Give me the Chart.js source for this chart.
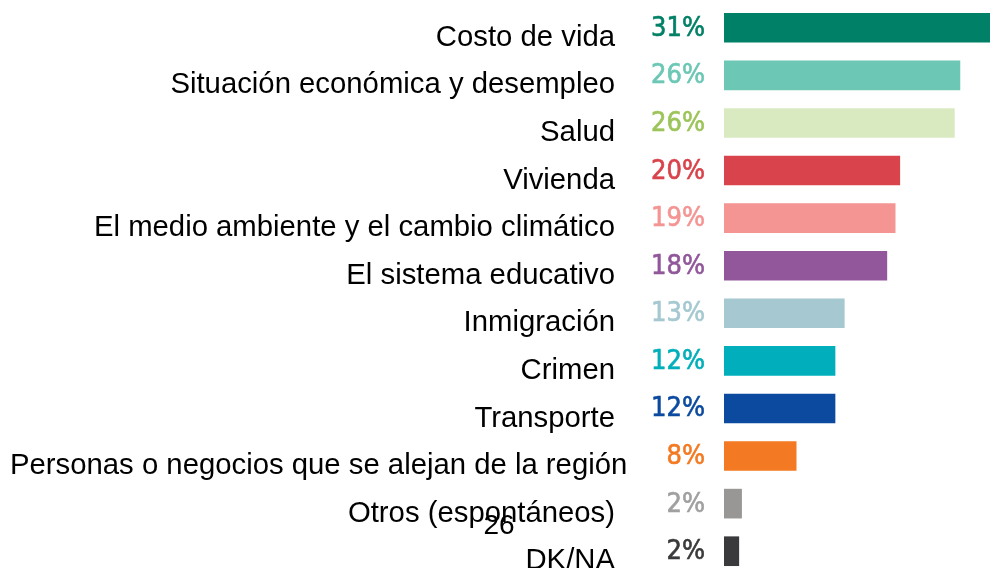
<!DOCTYPE html>
<html>
<head>
<meta charset="utf-8">
<script src="https://cdn.jsdelivr.net/npm/chart.js@4.4.1/dist/chart.umd.min.js"></script>
<style>
  html, body { margin: 0; padding: 0; background: #fff; overflow: hidden; }
  #wrap { width: 990px; height: 575px; position: relative; }
</style>
</head>
<body>
<div id="wrap"><canvas id="issues"></canvas></div>
<script>
const categories = [
  "Costo de vida",
  "Situación económica y desempleo",
  "Salud",
  "Vivienda",
  "El medio ambiente y el cambio climático",
  "El sistema educativo",
  "Inmigración",
  "Crimen",
  "Transporte",
  "Personas o negocios que se alejan de la región",
  "Otros (espontáneos)",
  "DK/NA",
];
// bar lengths
const values = [31, 25.5, 24.9, 19.0, 18.5, 17.6, 13.0, 12.0, 12.0, 7.8, 1.9, 1.6];
// printed labels
const valueLabels = ["31%", "26%", "26%", "20%", "19%", "18%", "13%", "12%", "12%", "8%", "2%", "2%"];

const barColors = ["#008066", "#6cc7b5", "#d9eac0", "#d9434b", "#f49593", "#91579a",
                   "#a5c8d1", "#00afbb", "#0b4a9f", "#f37a22", "#999696", "#3a3a3c"];
const labelColors = ["#008066", "#6cc7b5", "#9cc45a", "#d9434b", "#f49593", "#91579a",
                     "#a5c8d1", "#00afbb", "#0b4a9f", "#f37a22", "#a0a0a0", "#3a3a3c"];

// category names + percentages, placed from the y scale
const sideLabels = {
  id: "sideLabels",
  afterDatasetsDraw(chart) {
    const { ctx, chartArea } = chart;
    const yScale = chart.scales.y;
    ctx.save();
    ctx.textBaseline = "middle";
    categories.forEach((name, i) => {
      const y = yScale.getPixelForTick(i);
      ctx.font = "29.3px 'Liberation Sans', Arial, sans-serif";
      ctx.fillStyle = "#000";
      ctx.textAlign = "right";
      const w = ctx.measureText(name).width;
      ctx.fillText(name, Math.max(615, 10 + w), y + 10);

      ctx.font = "27px 'DejaVu Sans Condensed', 'DejaVu Sans'";
      ctx.fillStyle = labelColors[i];
      ctx.lineWidth = 0.6;
      ctx.strokeStyle = labelColors[i];
      ctx.fillText(valueLabels[i], chartArea.left - 19, y + 1);
      ctx.strokeText(valueLabels[i], chartArea.left - 19, y + 1);
    });
    // stray page number from the source slide
    ctx.font = "28px 'Liberation Sans'";
    ctx.fillStyle = "#000";
    ctx.textAlign = "center";
    ctx.fillText("26", 499, 526);
    ctx.restore();
  },
};

new Chart(document.getElementById("issues"), {
  type: "bar",
  data: {
    labels: categories,
    datasets: [
      {
        data: values,
        backgroundColor: barColors,
        barThickness: 29,
      },
    ],
  },
  plugins: [sideLabels],
  options: {
    indexAxis: "y",
    responsive: true,
    maintainAspectRatio: false,
    animation: false,
    layout: { padding: { top: 4, bottom: 0, left: 724, right: 0 } },
    plugins: {
      legend: { display: false },
      tooltip: { enabled: false },
    },
    scales: {
      x: {
        display: false,
        min: 0,
        max: 28.75,
      },
      y: {
        display: false,
      },
    },
  },
});
</script>
</body>
</html>
